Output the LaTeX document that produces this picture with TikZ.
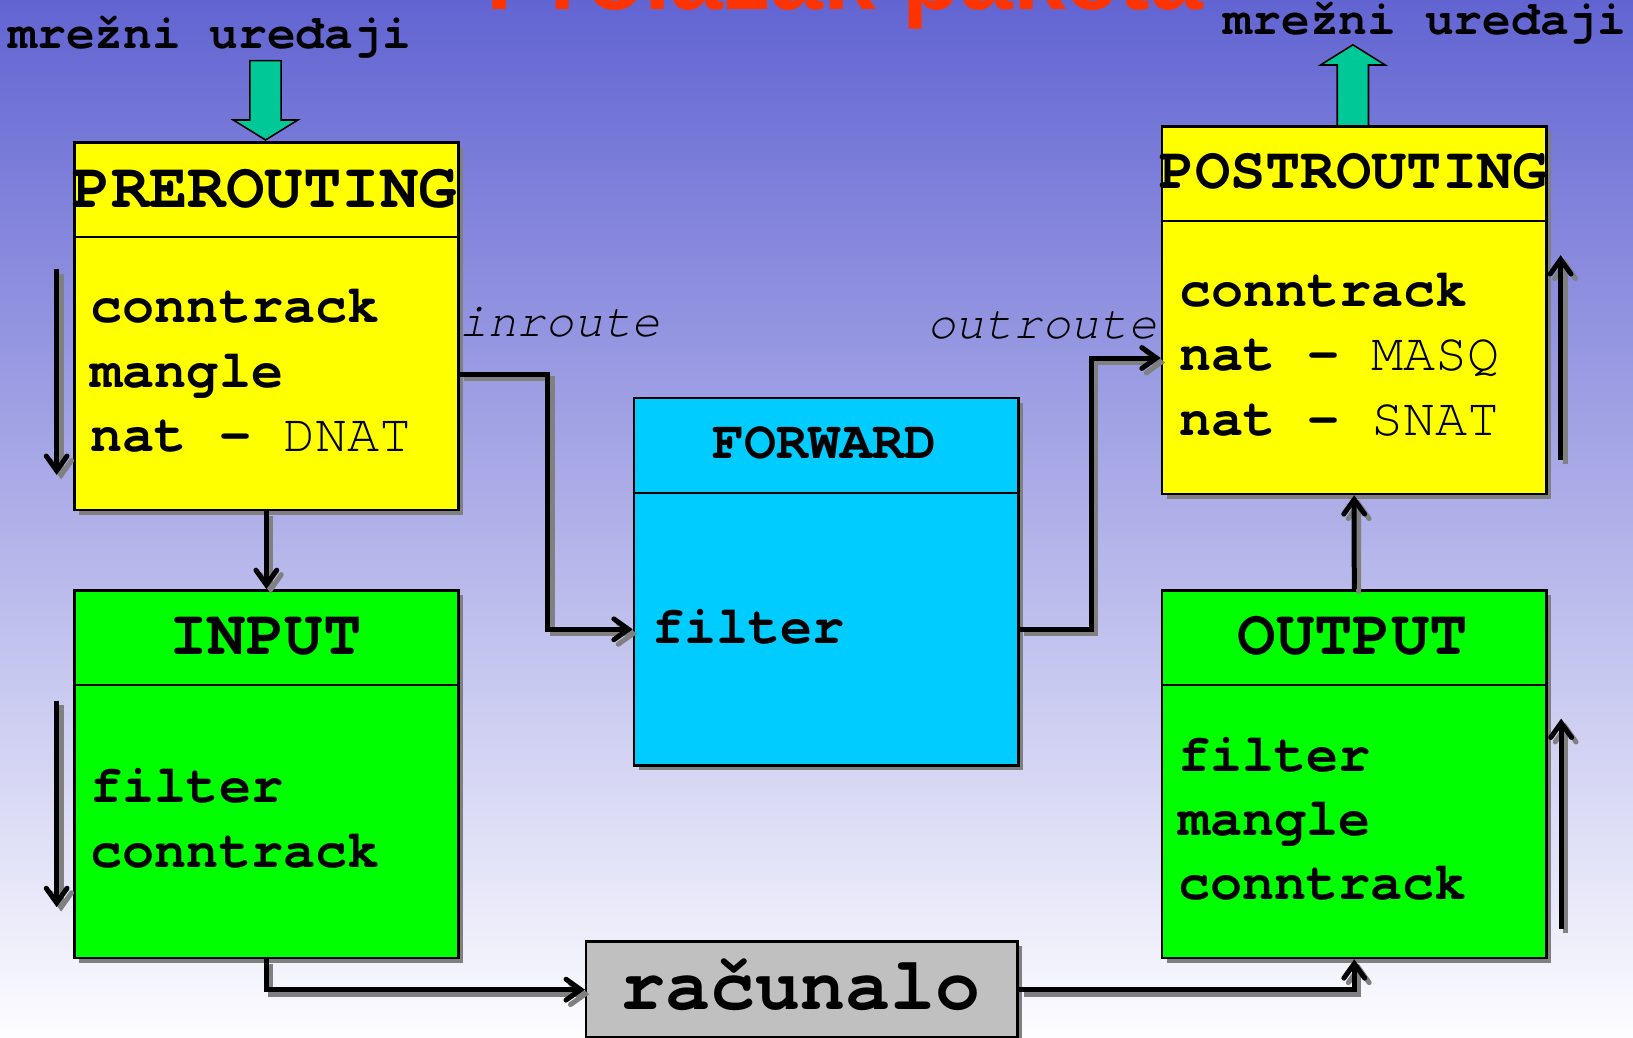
\documentclass[tikz,border=0pt]{standalone}
\usepackage{fontspec}
\setmainfont{Liberation Sans}
\newfontfamily\monofam{texgyrecursor}[Extension=.otf, UprightFont=*-regular, BoldFont=*-bold, ItalicFont=*-italic, BoldItalicFont=*-bolditalic, Ligatures={NoCommon}]
\usetikzlibrary{arrows.meta,shadows}
\definecolor{bgtop}{RGB}{98,100,210}
\definecolor{bgmid}{RGB}{182,183,231}
\definecolor{bgbot}{RGB}{253,253,255}
\definecolor{ylw}{RGB}{255,255,0}
\definecolor{grn}{RGB}{0,255,0}
\definecolor{cyn}{RGB}{0,204,255}
\definecolor{gry}{RGB}{192,192,192}
\definecolor{arrgreen}{RGB}{0,200,150}
\definecolor{shd}{RGB}{128,128,128}
\definecolor{ttl}{RGB}{255,51,0}
\newcommand\shconn[1]{%
  \draw[conn,color=shd,transform canvas={shift={(4.3pt,-4.3pt)}}] #1;
  \draw[conn] #1;}
\begin{document}
\begin{tikzpicture}[x=1pt,y=-1pt,
  box/.style={draw, line width=2.5pt, inner sep=0pt, minimum width=369pt,
    minimum height=353pt, anchor=north west,
    drop shadow={shadow xshift=4.5pt,shadow yshift=-4.5pt,fill=shd,opacity=1}},
  divider/.style={line width=2pt},
  hdrbig/.style={font=\monofam\bfseries\fontsize{61.5}{70}\selectfont, inner sep=0pt, anchor=base},
  hdrpost/.style={font=\monofam\bfseries\fontsize{56.5}{66}\selectfont, inner sep=0pt, anchor=base},
  hdrsmall/.style={font=\monofam\bfseries\fontsize{51.3}{62}\selectfont, inner sep=0pt, anchor=base},
  body/.style={font=\monofam\fontsize{51.3}{62}\selectfont, inner sep=0pt, anchor=base west},
  routelbl/.style={font=\monofam\itshape\fontsize{46}{55}\selectfont, inner sep=0pt, anchor=base west},
  devlbl/.style={font=\monofam\bfseries\fontsize{46}{55}\selectfont, inner sep=0pt, anchor=base west},
  conn/.style={line width=4.8pt, line join=miter, -{Straight Barb[length=14pt,width=20pt,line cap=round]}},
  blockarrow/.style={line width=1.5pt, fill=arrgreen, draw=black, line join=miter}
]
\clip (0,0) rectangle (1568,996);
\shade[top color=bgtop, middle color=bgmid, bottom color=bgbot] (0,0) rectangle (1568,996);

% title (mostly cut off)
\node[font=\bfseries\fontsize{91}{100}\selectfont, text=ttl, inner sep=0pt, anchor=base] (title) at (811,9) {Prolazak paketa};

% device labels
\node[devlbl] (devin) at (8,46.4) {mrežni uređaji};
\node[devlbl] (devout) at (1175,33.6) {mrežni uređaji};

% green block arrows
\draw[blockarrow] (240,58.3) -- (270,58.3) -- (270,115.2) -- (286,115.2) -- (255,134.4) -- (224,115.2) -- (240,115.2) -- cycle;
\draw[blockarrow] (1284,121) -- (1284,62.4) -- (1268,62.4) -- (1299,43) -- (1330,62.4) -- (1314,62.4) -- (1314,121) -- cycle;

% boxes
\node[box, fill=ylw] (pre) at (70,135.4) {};
\node[box, fill=ylw] (post) at (1114.5,120) {};
\node[box, fill=cyn] (fwd) at (607.5,381) {};
\node[box, fill=grn] (inp) at (70,565.6) {};
\node[box, fill=grn] (out) at (1114.6,565.6) {};
\node[draw, line width=2.5pt, inner sep=0pt, anchor=north west, minimum width=414.4pt, minimum height=92pt,
      fill=gry, drop shadow={shadow xshift=4.5pt,shadow yshift=-4.5pt,fill=shd,opacity=1}] (rac) at (561.6,903) {};

% header dividers
\foreach \b in {pre,post,fwd,inp,out}
  \draw[divider] ([yshift=-92pt]\b.north west) -- ([yshift=-92pt]\b.north east);

% headers
\node[hdrbig] (preT) at (254.3,199) {PREROUTING};
\node[hdrpost] (postT) at (1300,181) {POSTROUTING};
\node[hdrsmall] (fwdT) at (792,440.7) {FORWARD};
\node[hdrbig] (inpT) at (255,628) {INPUT};
\node[hdrbig] (outT) at (1299,628) {OUTPUT};
\node[font=\monofam\bfseries\fontsize{72}{80}\selectfont, inner sep=0pt, anchor=base] (racT) at (769,969) {računalo};

% body texts
\node[body] (pre1) at (87,310) {\bfseries conntrack};
\node[body] (pre2) at (87,372) {\bfseries mangle};
\node[body] (pre3) at (87,434) {\textbf{nat - }DNAT};

\node[body] (post1) at (1132,294.5) {\bfseries conntrack};
\node[body] (post2) at (1132,356) {\textbf{nat - }MASQ};
\node[body] (post3) at (1132,418) {\textbf{nat - }SNAT};

\node[body] (fwd1) at (626,617.5) {\bfseries filter};

\node[body] (inp1) at (87,771) {\bfseries filter};
\node[body] (inp2) at (87,833) {\bfseries conntrack};

\node[body] (out1) at (1131,740.6) {\bfseries filter};
\node[body] (out2) at (1131,801.8) {\bfseries mangle};
\node[body] (out3) at (1131,863.3) {\bfseries conntrack};

% route labels
\node[routelbl] (inroute) at (441,323) {inroute};
\node[routelbl] (outroute) at (890,325) {outroute};

% connectors
\shconn{(pre.south) -- (inp.north)}
\shconn{([yshift=-46pt]pre.east) -- ++(84.5,0) |- ([yshift=-45.5pt]fwd.west)}
\shconn{([yshift=-45.5pt]fwd.east) -- ++(69,0) |- ([yshift=-46pt]post.west)}
\shconn{(inp.south) |- (rac.west)}
\shconn{(rac.east) -| (out.south)}
\shconn{(out.north) -- (post.south)}

% side flow arrows
\coordinate (s1a) at (54.4,258.5); \coordinate (s1b) at (54.4,456);
\coordinate (s2a) at (54.4,673);   \coordinate (s2b) at (54.4,871);
\coordinate (s3a) at (1498.5,441.7); \coordinate (s3b) at (1498.5,245);
\coordinate (s4a) at (1499,892);   \coordinate (s4b) at (1499,690);
\shconn{(s1a) -- (s1b)}
\shconn{(s2a) -- (s2b)}
\shconn{(s3a) -- (s3b)}
\shconn{(s4a) -- (s4b)}
\end{tikzpicture}
\end{document}
